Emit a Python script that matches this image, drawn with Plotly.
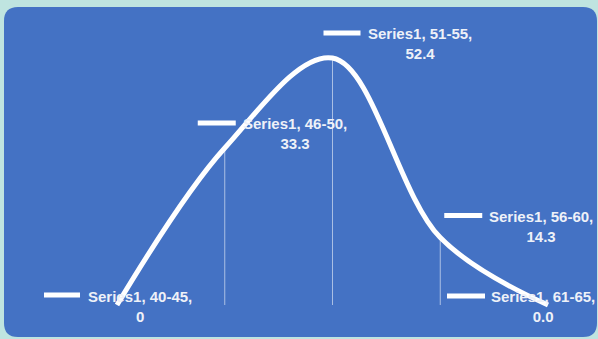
import plotly.graph_objects as go

# ---- data ----
series_name = "Series1"
categories = ["40-45", "46-50", "51-55", "56-60", "61-65"]
values = [0, 33.3, 52.4, 14.3, 0.0]
value_text = ["0", "33.3", "52.4", "14.3", "0.0"]

# ---- label placement (pixel offsets from each point) ----
label_dx = [23, 70, 87, 101, -5]
label_dy = [-1, 15, 15, 11, -1]
key_x0 = [-73, -27, -9, 4, -101]
key_x1 = [-37, 11, 28, 42, -63]
key_dy = [10, 25, 25, 22, 9]

W, H = 598, 339
BLUE = "#4472C4"
OUTER = "#BFE4E0"
xs = list(range(len(categories)))

fig = go.Figure()

# drop lines from each point to the axis
drop_x, drop_y = [], []
for x, v in zip(xs, values):
    drop_x += [x, x, None]
    drop_y += [v, 0, None]
fig.add_trace(go.Scatter(
    x=drop_x, y=drop_y, mode="lines",
    line=dict(color="rgba(255,255,255,0.55)", width=1),
    hoverinfo="skip", showlegend=False,
))

# smoothed series line
fig.add_trace(go.Scatter(
    x=xs, y=values, mode="lines", name=series_name,
    line=dict(color="white", width=5, shape="spline", smoothing=1.0),
    showlegend=False,
))

# rounded background panel
def pp(px, py):
    return f"{px / W:.5f},{1 - py / H:.5f}"

l, t, r, b, rad = 4, 7, 597, 337, 14
path = (
    f"M {pp(l + rad, t)} L {pp(r - rad, t)} Q {pp(r, t)} {pp(r, t + rad)} "
    f"L {pp(r, b - rad)} Q {pp(r, b)} {pp(r - rad, b)} "
    f"L {pp(l + rad, b)} Q {pp(l, b)} {pp(l, b - rad)} "
    f"L {pp(l, t + rad)} Q {pp(l, t)} {pp(l + rad, t)} Z"
)
shapes = [dict(type="path", xref="paper", yref="paper", path=path,
               fillcolor=BLUE, line=dict(width=0), layer="below")]

annotations = []
for i, (x, v) in enumerate(zip(xs, values)):
    # legend key drawn beside each data label
    shapes.append(dict(
        type="line", xref="x", yref="y",
        xsizemode="pixel", xanchor=x, x0=key_x0[i], x1=key_x1[i],
        ysizemode="pixel", yanchor=v, y0=key_dy[i], y1=key_dy[i],
        line=dict(color="white", width=5), layer="above",
    ))
    annotations.append(dict(
        x=x, y=v, xref="x", yref="y",
        text=f"<b>{series_name}, {categories[i]},<br>{value_text[i]}</b>",
        showarrow=False, xanchor="center", yanchor="middle", align="center",
        xshift=label_dx[i], yshift=label_dy[i],
        font=dict(family="Liberation Sans", size=15, color="#EEF1F8"),
    ))

# axis ranges chosen so the category spacing fills the panel
px_per_cat = 107.75
x0 = -117 / px_per_cat
px_per_unit = (305 - 58) / 52.4
y0 = -(H - 305) / px_per_unit

fig.update_layout(
    width=W, height=H,
    margin=dict(l=0, r=0, t=0, b=0),
    paper_bgcolor=OUTER, plot_bgcolor="rgba(0,0,0,0)",
    xaxis=dict(range=[x0, x0 + W / px_per_cat], visible=False, fixedrange=True),
    yaxis=dict(range=[y0, y0 + H / px_per_unit], visible=False, fixedrange=True),
    shapes=shapes, annotations=annotations,
)

fig.write_html("out.html")
